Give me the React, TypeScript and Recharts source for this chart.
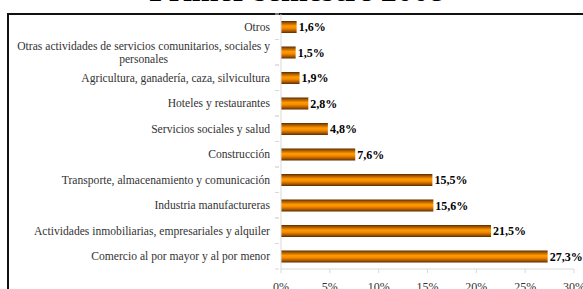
import React from 'react'
import { BarChart, Bar, XAxis, YAxis, LabelList } from 'recharts'

const categories = [
  'Otros',
  'Otras actividades de servicios comunitarios, sociales y personales',
  'Agricultura, ganadería, caza, silvicultura',
  'Hoteles y restaurantes',
  'Servicios sociales y salud',
  'Construcción',
  'Transporte, almacenamiento y comunicación',
  'Industria manufactureras',
  'Actividades inmobiliarias, empresariales y alquiler',
  'Comercio al por mayor y al por menor',
]
const shares = [1.6, 1.5, 1.9, 2.8, 4.8, 7.6, 15.5, 15.6, 21.5, 27.3]
const xTicks = [0, 5, 10, 15, 20, 25, 30]

const data = categories.map((name, i) => ({ name, value: shares[i] }))

const FONT = '"Liberation Serif", "DejaVu Serif", serif'
const LABEL_FONT = `11.6px ${FONT}`
const MAX_LINE = 264
const LINE_H = 12.5

let canvas: HTMLCanvasElement | null = null
function textWidth(s: string) {
  if (!canvas) canvas = document.createElement('canvas')
  const ctx = canvas.getContext('2d')!
  ctx.font = LABEL_FONT
  return ctx.measureText(s).width
}

function wrap(s: string) {
  const words = s.split(' ')
  const lines: string[] = []
  let cur = ''
  for (const w of words) {
    const next = cur ? cur + ' ' + w : w
    if (cur && textWidth(next) > MAX_LINE) {
      lines.push(cur)
      cur = w
    } else cur = next
  }
  if (cur) lines.push(cur)
  return lines
}

function CategoryTick(props: any) {
  const { x, y, payload } = props
  const lines = wrap(payload.value)
  const band = 25.5
  const widest = Math.max(...lines.map(textWidth))
  const cx = x - 3 - widest / 2
  const startY = y - ((lines.length - 1) * LINE_H) / 2 + 4
  return (
    <g>
      <line x1={x + 2} x2={x + 6} y1={y - band / 2} y2={y - band / 2} stroke="#d9d9d9" />
      <line x1={x + 2} x2={x + 6} y1={y + band / 2} y2={y + band / 2} stroke="#d9d9d9" />
      <text fill="#333" fontFamily={FONT} fontSize={11.6} textAnchor="middle">
        {lines.map((l, i) => (
          <tspan key={i} x={cx} y={startY + i * LINE_H}>
            {l}
          </tspan>
        ))}
      </text>
    </g>
  )
}

export default function App() {
  return (
    <div style={{ position: 'fixed', left: 0, top: 0, width: 583, height: 289, overflow: 'hidden', background: '#fff' }}>
      <div
        style={{
          position: 'absolute',
          left: 0,
          width: 594,
          top: -28,
          textAlign: 'center',
          fontFamily: FONT,
          fontWeight: 'bold',
          fontSize: 32,
          lineHeight: '36px',
          color: '#000',
        }}
      >
        Primer semestre 2008
      </div>
      <div
        style={{
          position: 'absolute',
          left: 7,
          top: 13,
          width: 620,
          height: 320,
          borderLeft: '2px solid #111',
          borderTop: '2px solid #111',
        }}
      />
      <div style={{ position: 'absolute', left: 0, top: 0 }}>
        <BarChart
          width={600}
          height={300}
          data={data}
          layout="vertical"
          margin={{ top: 14, right: 26, bottom: 1, left: 0 }}
        >
          <defs>
            <linearGradient id="barFill" x1="0" y1="0" x2="0" y2="1">
              <stop offset="0%" stopColor="#5a2c00" />
              <stop offset="18%" stopColor="#b05c00" />
              <stop offset="42%" stopColor="#ff9a00" />
              <stop offset="60%" stopColor="#f58c00" />
              <stop offset="84%" stopColor="#a85600" />
              <stop offset="100%" stopColor="#5a2a00" />
            </linearGradient>
          </defs>
          <XAxis
            type="number"
            domain={[0, 30]}
            ticks={xTicks}
            tickFormatter={(v) => `${v}%`}
            stroke="#d9d9d9"
            tickSize={4}
            tickMargin={9}
            height={30}
            tick={{ fill: '#333', fontFamily: FONT, fontSize: 12 }}
            interval={0}
          />
          <YAxis
            type="category"
            dataKey="name"
            width={281}
            stroke="#d9d9d9"
            tickLine={false}
            interval={0}
            tick={<CategoryTick />}
          />
          <Bar dataKey="value" fill="url(#barFill)" barSize={12} isAnimationActive={false}>
            <LabelList
              dataKey="value"
              position="right"
              offset={2}
              formatter={(v: any) => `${String(v).replace('.', ',')}%`}
              style={{ fill: '#000', fontFamily: FONT, fontSize: 12, fontWeight: 'bold' }}
            />
          </Bar>
        </BarChart>
      </div>
    </div>
  )
}
